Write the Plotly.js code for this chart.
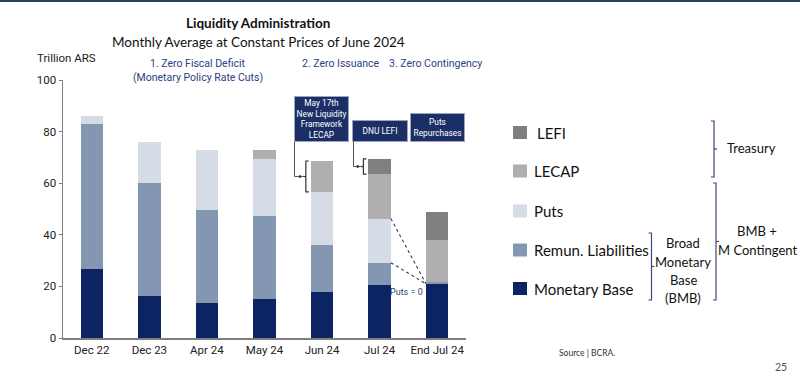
<!DOCTYPE html>
<html><head><meta charset="utf-8">
<script src="https://cdn.plot.ly/plotly-3.0.1.min.js"></script>
<style>html,body{margin:0;padding:0;background:#fff;}#chart{width:800px;height:381px;}</style>
</head><body><div id="chart"></div>
<script>
// ---- data (Trillion ARS) ----
const categories = ["Dec 22","Dec 23","Apr 24","May 24","Jun 24","Jul 24","End Jul 24"];
const monetaryBase = [26.7, 16.4, 13.5, 15.2, 17.9, 20.4, 21.0];
const remunLiabilities = [56.4, 43.8, 36.2, 32.0, 18.0, 8.8, 0.6];
const puts = [3.1, 15.7, 23.3, 22.3, 20.7, 17.1, 0];
const lecap = [0, 0, 0, 3.5, 12.0, 17.2, 16.2];
const lefi = [0, 0, 0, 0, 0, 5.9, 11.0];
const yTicks = [0, 20, 40, 60, 80, 100];
const legendLabels = ["LEFI","LECAP","Puts","Remun. Liabilities","Monetary Base"];

const colors = {mb:"#0d2463", rl:"#8397b2", puts:"#d6dce5", lecap:"#b0aeae", lefi:"#808080"};
const navy = "#1b2f66", textBlue = "#2a4282";

// plot area in pixels
const L = 63, R = 466, T = 80, B = 338;
const X = px => (px - L) / (R - L);
const Y = py => (B - py) / (B - T);
const vpx = v => B - v * (B - T) / 100;
const BW = 0.39;
const catW = (R - L) / categories.length;
const cx = i => L + catW * (i + 0.5);

const series = [
  {name:"Monetary Base", y:monetaryBase, c:colors.mb},
  {name:"Remun. Liabilities", y:remunLiabilities, c:colors.rl},
  {name:"Puts", y:puts, c:colors.puts},
  {name:"LECAP", y:lecap, c:colors.lecap},
  {name:"LEFI", y:lefi, c:colors.lefi}
];
const traces = series.map(s => ({
  type:"bar", x:categories, y:s.y, name:s.name, width:BW,
  marker:{color:s.c, line:{width:0}}, showlegend:false, hoverinfo:"skip"
}));

const cum = (i, n) => { let s = 0; for (let k = 0; k < n; k++) s += series[k].y[i]; return s; };

const shapes = [], annotations = [];
const F = "Roboto, Arial, sans-serif";
const FL = "Lato, 'Open Sans', sans-serif";
function txt(x, y, text, size, color, opts) {
  annotations.push(Object.assign({xref:"paper", yref:"paper", x:X(x), y:Y(y), text:text, showarrow:false,
    font:{family:F, size:size, color:color}, xanchor:"center", yanchor:"middle"}, opts || {}));
}
function pathPx(pts, color, width, dash) {
  let d = pts.map((p, k) => (p[0] === "M" ? "M" : (k === 0 ? "M" : "L")) + " " + X(p[p.length-2]).toFixed(5) + " " + Y(p[p.length-1]).toFixed(5)).join(" ");
  shapes.push({type:"path", xref:"paper", yref:"paper", path:d, line:{color:color, width:width, dash:dash || "solid"}});
}
function bracketRightNub(x, y0, y1, color) { // "}" shape
  const m = (y0 + y1) / 2;
  pathPx([[x-3,y0],[x,y0],[x,y1],[x-3,y1]], color, 1.2);
  pathPx([["M",x,m],[x+3,m]], color, 1.2);
}
function bracketLeftNub(x, y0, y1, color) { // "{" shape
  const m = (y0 + y1) / 2;
  pathPx([[x+3,y0],[x,y0],[x,y1],[x+3,y1]], color, 1.2);
  pathPx([["M",x,m],[x-3,m]], color, 1.2);
}

// top frame line
shapes.push({type:"rect", xref:"paper", yref:"paper", x0:X(0), x1:X(800), y0:Y(0), y1:Y(2), fillcolor:"#2e4057", line:{width:0}, layer:"above"});

// titles
txt(258, 23, "<b>Liquidity Administration</b>", 13.5, "#111", {font:{family:FL, size:13.5, color:"#111"}});
txt(258, 42, "Monthly Average at Constant Prices of June 2024", 13.5, "#111", {font:{family:FL, size:13.5, color:"#111"}});
txt(35, 58, "Trillion ARS", 11.5, "#222", {xanchor:"left"});
txt(198, 64, "1. Zero Fiscal Deficit", 10.5, textBlue);
txt(198, 77, "(Monetary Policy Rate Cuts)", 10.5, textBlue);
txt(341, 64, "2. Zero Issuance", 10.5, textBlue);
txt(435, 64, "3. Zero Contingency", 10.5, textBlue);

// boxes
function box(x0, x1, y0, y1, text) {
  annotations.push({xref:"paper", yref:"paper", x:X(x0), y:Y(y0), xanchor:"left", yanchor:"top",
    width:x1-x0-4, height:y1-y0-4, text:text, showarrow:false, bgcolor:navy, bordercolor:"#9aa6c4",
    borderwidth:1, borderpad:1, align:"center", valign:"middle",
    font:{family:F, size:8.3, color:"#fff"}});
}
box(294, 349, 96, 142, "May 17th<br>New Liquidity<br>Framework<br>LECAP");
box(352, 408, 120, 142, "DNU LEFI");
box(410, 465, 113, 142, "Puts<br>Repurchases");

// connector to Jun LECAP
const junLo = vpx(cum(4,3)), junHi = vpx(cum(4,4));
const junMid = (junLo + junHi) / 2;
const junLeft = cx(4) - BW * catW / 2;
bracketLeftNub(junLeft - 5, junHi, junLo, "#333");
pathPx([[294.5,142],[294.5,junMid],[junLeft-10,junMid]], "#555", 1);
annotations.push({xref:"paper", yref:"paper", x:X(junLeft-8), y:Y(junMid), ax:-6, ay:0, text:"", showarrow:true, arrowhead:2, arrowsize:0.7, arrowwidth:1, arrowcolor:"#333"});

// connector to Jul LEFI
const julLo = vpx(cum(5,4)), julHi = vpx(cum(5,5));
const julMid = (julLo + julHi) / 2;
const julLeft = cx(5) - BW * catW / 2;
bracketLeftNub(julLeft - 5, julHi, julLo, "#333");
pathPx([[353.5,142],[353.5,julMid],[julLeft-10,julMid]], "#555", 1);
annotations.push({xref:"paper", yref:"paper", x:X(julLeft-8), y:Y(julMid), ax:-6, ay:0, text:"", showarrow:true, arrowhead:2, arrowsize:0.7, arrowwidth:1, arrowcolor:"#333"});

// dashed lines Jul -> End Jul
const julRight = cx(5) + BW * catW / 2;
const endLeft = cx(6) - BW * catW / 2;
const endMB = vpx(cum(6,1));
pathPx([[julRight, vpx(cum(5,3))],[endLeft, endMB]], "#2a3a6a", 1.1, "dot");
pathPx([[julRight, vpx(cum(5,2))],[endLeft, endMB]], "#2a3a6a", 1.1, "dot");
txt(425, 292, "Puts = 0", 9, textBlue, {xanchor:"right"});

// custom legend
const legColors = [colors.lefi, colors.lecap, colors.puts, colors.rl, colors.mb];
const legY = [132.5, 171, 211, 250, 288.5];
legendLabels.forEach((lab, k) => {
  shapes.push({type:"rect", xref:"paper", yref:"paper", x0:X(513), x1:X(527), y0:Y(legY[k]-6.5), y1:Y(legY[k]+6.5), fillcolor:legColors[k], line:{width:0}});
  txt(k === 0 ? 535 : 532, legY[k], lab, 15, "#111", {xanchor:"left", font:{family:FL, size:15, color:"#111"}});
});
const brCol = "#3b4a7a";
bracketRightNub(651.5, 233, 300, brCol);
bracketRightNub(714, 121, 177, brCol);
bracketRightNub(716, 183, 300, brCol);
txt(751, 148, "Treasury", 13, "#111", {font:{family:FL, size:13, color:"#111"}});
txt(757, 231, "BMB +", 13, "#111", {font:{family:FL, size:13, color:"#111"}});
txt(757, 250, "M Contingent", 13, "#111", {font:{family:FL, size:13, color:"#111"}});
txt(683, 243, "Broad", 13, "#111", {font:{family:FL, size:13, color:"#111"}});
txt(683, 261.5, "Monetary", 13, "#111", {font:{family:FL, size:13, color:"#111"}});
txt(683, 279.5, "Base", 13, "#111", {font:{family:FL, size:13, color:"#111"}});
txt(683, 297.5, "(BMB)", 13, "#111", {font:{family:FL, size:13, color:"#111"}});
txt(587, 353, "Source | BCRA.", 8.5, "#333", {font:{family:FL, size:8.5, color:"#333"}});
txt(781, 367, "25", 10.5, "#44546a", {font:{family:FL, size:10.5, color:"#44546a"}});

const layout = {
  width:800, height:381, paper_bgcolor:"#fff", plot_bgcolor:"#fff",
  margin:{l:L, r:800-R, t:T, b:381-B, pad:0},
  barmode:"stack", showlegend:false,
  font:{family:F, size:11.5, color:"#333"},
  xaxis:{type:"category", range:[-0.5, 6.5], showline:true, linecolor:"#7f7f7f", linewidth:2,
    ticks:"", tickfont:{family:F, size:11.5, color:"#222"}, fixedrange:true, showgrid:false, zeroline:false},
  yaxis:{range:[0,100], tickvals:yTicks, ticktext:yTicks.map(String), showline:true, linecolor:"#7f7f7f", linewidth:1.5,
    ticks:"outside", ticklen:3, tickcolor:"#7f7f7f", showgrid:false, zeroline:false,
    tickfont:{family:F, size:11.5, color:"#222"}, fixedrange:true},
  shapes:shapes, annotations:annotations
};
Plotly.newPlot("chart", traces, layout, {staticPlot:true, displayModeBar:false});
</script></body></html>
